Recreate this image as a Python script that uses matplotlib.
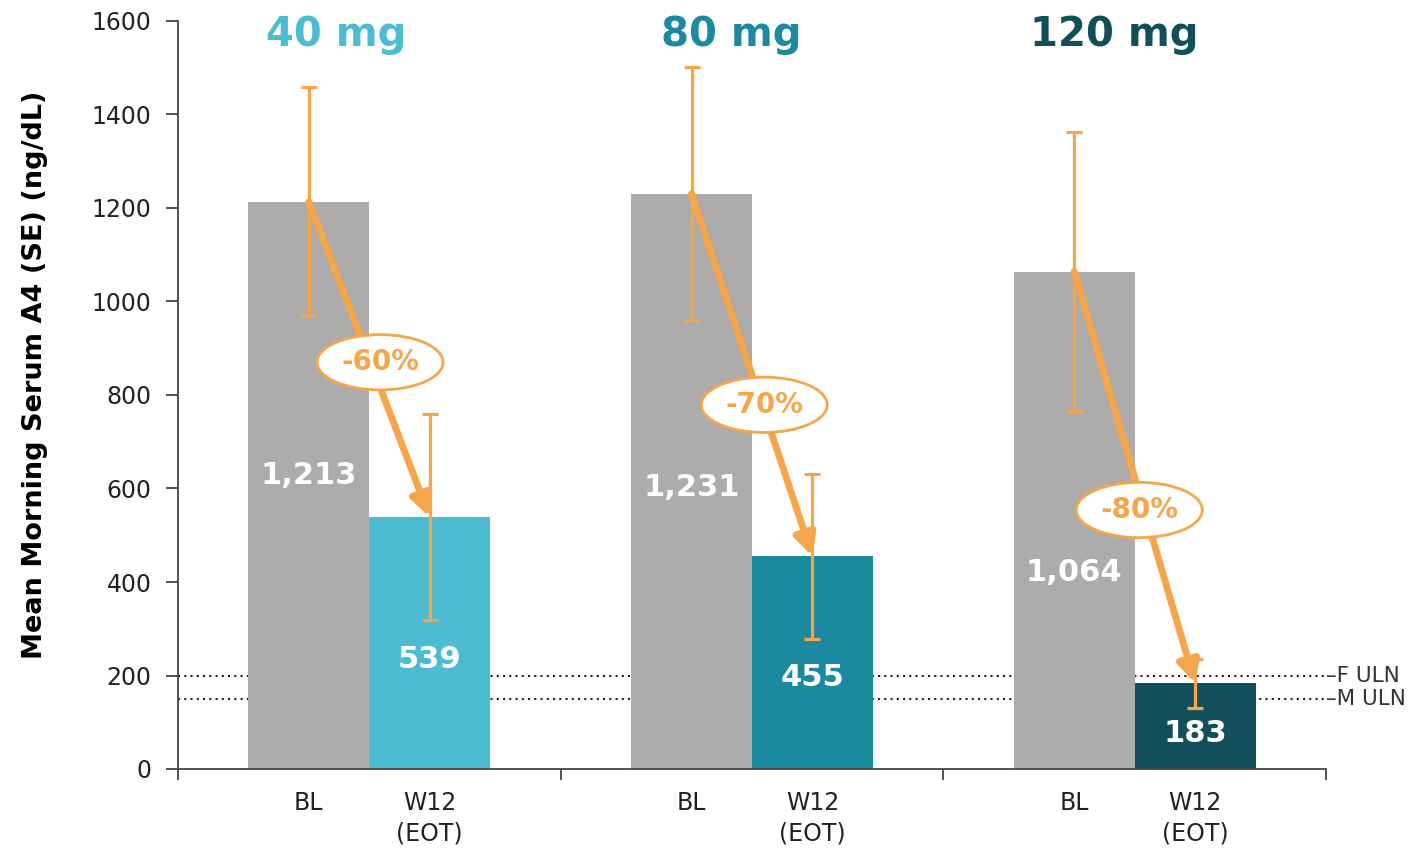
import matplotlib
matplotlib.use("Agg")
import matplotlib.pyplot as plt
from matplotlib.transforms import blended_transform_factory

# ---- data ----
doses = ["40 mg", "80 mg", "120 mg"]
baseline = [1213, 1231, 1064]
week12 = [539, 455, 183]
baseline_se = [245, 270, 298]
week12_se = [220, 177, 52]
pct_change = ["-60%", "-70%", "-80%"]
baseline_labels = ["1,213", "1,231", "1,064"]
week12_labels = ["539", "455", "183"]
uln_values = [200, 150]
uln_labels = ["\u2013F ULN", "\u2013M ULN"]
yticks = [0, 200, 400, 600, 800, 1000, 1200, 1400, 1600]

# ---- style ----
GRAY = "#ADACAB"
DOSE_COLORS = ["#4DBBD0", "#1C8A9E", "#134F5A"]
ORANGE = "#F5A54A"
AXC = "#444444"
plt.rcParams["font.family"] = ["DejaVu Sans"]

fig = plt.figure(figsize=(14.26, 8.51), dpi=100)
ax = fig.add_axes([178/1426, 82/851, (1326-178)/1426, 748/851])

centers = [0.5, 1.5, 2.5]
off = 0.158
width = 0.316
bl_x = [c - off for c in centers]
w_x = [c + off for c in centers]

ax.bar(bl_x, baseline, width=width, color=GRAY, zorder=2)
ax.bar(w_x, week12, width=width, color=DOSE_COLORS, zorder=2)

ax.errorbar(bl_x, baseline, yerr=baseline_se, fmt="none", ecolor=ORANGE,
            elinewidth=2.3, capsize=5.5, capthick=2.3, zorder=3)
ax.errorbar(w_x, week12, yerr=week12_se, fmt="none", ecolor=ORANGE,
            elinewidth=2.3, capsize=5.5, capthick=2.3, zorder=3)

# reference lines
for v, lab in zip(uln_values, uln_labels):
    ax.axhline(v, color="#222222", lw=1.5, ls=(0, (1, 2)), zorder=1)
    ax.annotate(lab, xy=(1.0, v), xycoords=("axes fraction", "data"),
                xytext=(0, 0), textcoords="offset points", ha="left",
                va="center", fontsize=15.5, color="#333333", annotation_clip=False)

# arrows
for i in range(3):
    ax.annotate("", xy=(w_x[i], week12[i]), xytext=(bl_x[i], baseline[i]),
                arrowprops=dict(arrowstyle="-|>", lw=5, color=ORANGE,
                                mutation_scale=32, shrinkA=0, shrinkB=0),
                zorder=4)

# percent ellipses
pct_pos_x = [0.528, 1.532, 2.512]
pct_pos_y = [870, 779, 554]
for i in range(3):
    ax.text(pct_pos_x[i], pct_pos_y[i], pct_change[i], ha="center", va="center",
            fontsize=20, fontweight="bold", color=ORANGE, zorder=6,
            bbox=dict(boxstyle="ellipse,pad=0.2", fc="white", ec=ORANGE, lw=2))

# value labels
bl_label_y = [627, 603, 421]
w_label_y = [235, 195, 75]
for i in range(3):
    ax.text(bl_x[i], bl_label_y[i], baseline_labels[i], ha="center", va="center",
            fontsize=22, fontweight="bold", color="white", zorder=5)
    ax.text(w_x[i], w_label_y[i], week12_labels[i], ha="center", va="center",
            fontsize=22, fontweight="bold", color="white", zorder=5)

# dose titles
title_x = [0.413, 1.445, 2.446]
for i in range(3):
    ax.text(title_x[i], 1570, doses[i], ha="center", va="center",
            fontsize=29, fontweight="bold", color=DOSE_COLORS[i])

# axes styling
ax.set_xlim(0, 3)
ax.set_ylim(0, 1600)
ax.set_yticks(yticks)
ax.set_yticklabels([str(t) for t in yticks], fontsize=17, color="#222222")
ax.set_xticks([0, 1, 2, 3])
ax.set_xticklabels([])
ax.tick_params(axis="y", direction="out", length=9, width=1.3, color=AXC, pad=10)
ax.tick_params(axis="x", direction="out", length=8, width=1.3, color=AXC)
for s in ["top", "right"]:
    ax.spines[s].set_visible(False)
for s in ["left", "bottom"]:
    ax.spines[s].set_color(AXC)
    ax.spines[s].set_linewidth(1.3)

ax.set_ylabel("Mean Morning Serum A4 (SE) (ng/dL)", fontsize=19.5,
              fontweight="bold", va="center")
ax.yaxis.set_label_coords(-0.1246, 0.527)

trans = blended_transform_factory(ax.transData, ax.transAxes)
for i in range(3):
    ax.text(bl_x[i], -0.045, "BL", transform=trans, ha="center", va="center",
            fontsize=17, color="#222222")
    ax.text(w_x[i], -0.045, "W12", transform=trans, ha="center", va="center",
            fontsize=17, color="#222222")
    ax.text(w_x[i], -0.086, "(EOT)", transform=trans, ha="center", va="center",
            fontsize=17, color="#222222")

fig.savefig("out.png", dpi=100)
